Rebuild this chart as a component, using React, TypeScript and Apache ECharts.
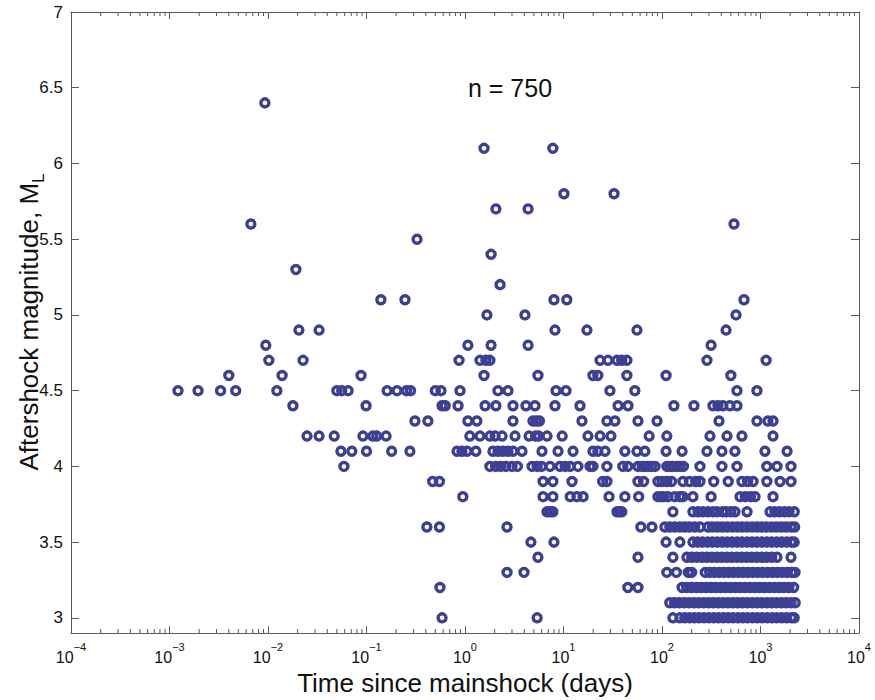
import React, { useEffect, useRef } from "react";
import * as echarts from "echarts";

// Aftershock times (days since mainshock) grouped by local magnitude M_L
const t30 = [0.585, 5.4, 129, 152, 170, 190, 213, 238, 267, 299, 335, 375, 420, 470, 527, 590, 661, 740, 830, 930, 1040, 1170, 1310, 1460, 1640, 1840, 2060, 2200];
const t31 = [120, 134, 150, 168, 188, 211, 236, 265, 297, 332, 372, 417, 467, 523, 586, 656, 735, 823, 922, 1030, 1160, 1300, 1450, 1630, 1820, 2040, 2250];
const t32 = [0.557, 45, 57, 160, 178, 200, 224, 250, 280, 315, 352, 395, 442, 495, 555, 620, 695, 780, 875, 980, 1100, 1230, 1380, 1550, 1730, 1940, 2170];
const t33 = [2.67, 3.97, 112, 140, 185, 200, 275, 305, 340, 380, 425, 475, 530, 595, 665, 745, 835, 935, 1050, 1180, 1320, 1480, 1660, 1860, 2080, 2240];
const t34 = [5.5, 57, 129, 179, 200, 225, 255, 285, 320, 360, 405, 455, 510, 575, 645, 725, 815, 915, 1030, 1150, 1300, 1470, 2040];
const t35 = [4.67, 8.0, 110, 152, 206, 230, 258, 290, 325, 365, 410, 460, 515, 580, 650, 730, 820, 920, 1030, 1160, 1300, 1460, 1640, 1840, 2060, 2200];
const t36 = [0.41, 0.55, 2.67, 61, 79, 107, 120, 135, 152, 170, 190, 215, 243, 293, 325, 365, 410, 460, 520, 580, 650, 730, 820, 920, 1030, 1150, 1300, 1450, 1630, 1830, 2050, 2220];
const t37 = [6.8, 7.3, 7.8, 34.9, 37, 39, 129, 206, 232, 260, 293, 329, 362, 415, 450, 500, 550, 730, 1250, 1400, 1560, 1750, 1950, 2200];
const t38 = [0.95, 6.2, 7.8, 11.7, 13.7, 15.8, 29, 42, 58, 91, 98, 104, 115, 135, 152, 163, 206, 315, 620, 700, 790, 880, 1340];
const t39 = [0.47, 0.55, 6.2, 7.8, 12.2, 25, 27.6, 57, 65, 91, 100, 112, 125, 163, 190, 220, 243, 335, 470, 648, 740, 840, 1160, 1580, 2040];
const t40 = [0.059, 1.79, 2.05, 2.3, 2.6, 3.0, 3.4, 4.8, 5.4, 6.0, 7.3, 9.2, 10.4, 11.7, 14.0, 18.6, 19.9, 27.6, 40, 45, 57, 63, 67, 72, 78, 85, 112, 120, 128, 140, 152, 165, 243, 406, 577, 1160, 1470, 2040];
const t41 = [0.055, 0.071, 0.1, 0.18, 0.276, 0.83, 0.93, 1.05, 1.29, 1.92, 2.16, 2.43, 2.73, 3.07, 3.79, 6.05, 8.8, 12.5, 19.9, 22.3, 26.4, 42, 55.7, 67, 110, 160, 286, 406, 550, 1110, 1860];
const t42 = [0.0249, 0.033, 0.047, 0.092, 0.116, 0.127, 0.158, 1.12, 1.42, 1.79, 2.02, 2.38, 3.22, 4.47, 5.2, 5.6, 6.8, 9.7, 17.7, 23.5, 30.3, 74, 112, 307, 457, 648, 1340];
const t43 = [0.31, 0.42, 1.07, 1.32, 3.07, 4.9, 5.3, 5.7, 15.4, 27.6, 33.3, 57, 89, 379, 920, 1190, 1340];
const t44 = [0.0179, 0.099, 0.585, 0.63, 0.85, 1.6, 2.06, 3.07, 4.16, 5.13, 8.2, 14.7, 35.8, 45.2, 132, 211, 329, 370, 415, 490, 577];
const t45 = [0.00122, 0.00195, 0.0033, 0.0047, 0.0123, 0.05, 0.056, 0.065, 0.162, 0.204, 0.255, 0.28, 0.5, 0.57, 0.89, 2.16, 2.73, 8.4, 10.6, 29.6, 53, 577, 920];
const t46 = [0.004, 0.0139, 0.088, 1.56, 5.5, 19.9, 22.3, 44, 110, 500];
const t47 = [0.0102, 0.0227, 0.87, 1.42, 1.63, 1.79, 23.5, 28.3, 34.9, 39, 44, 286, 1140];
const t48 = [0.0095, 1.07, 1.84, 4.37, 315];
const t49 = [0.0206, 0.033, 8.2, 17.3, 55.7, 447];
const t50 = [1.67, 4.06, 564];
const t51 = [0.14, 0.246, 8.0, 10.8, 680];
const t52 = [2.27];
const t53 = [0.0192];
const t54 = [1.84];
const t55 = [0.326];
const t56 = [0.0067, 538];
const t57 = [2.06, 4.37];
const t58 = [10.1, 32.6];
const t61 = [1.56, 7.8];
const t64 = [0.0093];

const magnitudeRows: [number, number[]][] = [
  [3.0, t30], [3.1, t31], [3.2, t32], [3.3, t33], [3.4, t34], [3.5, t35],
  [3.6, t36], [3.7, t37], [3.8, t38], [3.9, t39], [4.0, t40], [4.1, t41],
  [4.2, t42], [4.3, t43], [4.4, t44], [4.5, t45], [4.6, t46], [4.7, t47],
  [4.8, t48], [4.9, t49], [5.0, t50], [5.1, t51], [5.2, t52], [5.3, t53],
  [5.4, t54], [5.5, t55], [5.6, t56], [5.7, t57], [5.8, t58], [6.1, t61],
  [6.4, t64],
];

const decadeExponents = [-4, -3, -2, -1, 0, 1, 2, 3];
const minorMultipliers = [2, 3, 4, 5, 6, 7, 8, 9];
const annotation = "n = 750";
const xTitle = "Time since mainshock (days)";
const yTitleMain = "Aftershock magnitude, M";
const yTitleSub = "L";

const axisColor = "#5a5a5a";
const textColor = "#111111";
const dotColor = "#3c3f96";
const fontFamily = "'Liberation Sans', Arial, Helvetica, sans-serif";

export default function App() {
  const ref = useRef<HTMLDivElement>(null);

  useEffect(() => {
    if (!ref.current) return;
    const chart = echarts.init(ref.current, undefined, { renderer: "svg" });

    const points: number[][] = [];
    magnitudeRows.forEach(([m, ts]) => ts.forEach((t) => points.push([t, m])));

    const minorTicks: number[][] = [];
    decadeExponents.forEach((e) =>
      minorMultipliers.forEach((k) => minorTicks.push([k * Math.pow(10, e), 5]))
    );

    const supLabel = (v: number) => {
      const e = Math.round(Math.log10(v));
      const s = e < 0 ? "\u2212" + -e : String(e);
      return "{base|10}{sup|" + s + "}";
    };

    const commonX = {
      type: "log",
      logBase: 10,
      min: 1e-4,
      max: 1e4,
      splitNumber: 8,
      splitLine: { show: false },
      axisLine: { show: true, onZero: false, lineStyle: { color: axisColor, width: 1 } },
      axisTick: { show: true, inside: true, length: 7, lineStyle: { color: axisColor, width: 1 } },
    };
    const commonY = {
      type: "value",
      min: 2.9,
      max: 7,
      splitNumber: 8,
      splitLine: { show: false },
      axisLine: { show: true, onZero: false, lineStyle: { color: axisColor, width: 1 } },
      axisTick: { show: true, inside: true, length: 8, lineStyle: { color: axisColor, width: 1 } },
    };

    chart.setOption({
      animation: false,
      backgroundColor: "#ffffff",
      grid: { left: 71, right: 16, top: 12, bottom: 67, containLabel: false, outerBoundsMode: "none" },
      xAxis: [
        {
          ...commonX,
          position: "bottom",
          axisLabel: {
            margin: 8,
            formatter: supLabel,
            color: textColor,
            fontFamily,
            rich: {
              base: { fontSize: 16, lineHeight: 24, verticalAlign: "bottom", color: textColor, fontFamily },
              sup: { fontSize: 11, lineHeight: 12, verticalAlign: "top", color: textColor, fontFamily },
            },
          },
          name: xTitle,
          nameLocation: "middle",
          nameGap: 33,
          nameTextStyle: { fontSize: 26, color: textColor, fontFamily },
        },
        { ...commonX, position: "top", axisLabel: { show: false } },
      ],
      yAxis: [
        {
          ...commonY,
          position: "left",
          axisLabel: {
            margin: 8,
            fontSize: 17,
            color: textColor,
            fontFamily,
            formatter: (v: number) => (Math.abs(v - 2.9) < 1e-6 ? "" : String(+v.toFixed(1))),
          },
        },
        { ...commonY, position: "right", axisLabel: { show: false } },
      ],
      graphic: [
        {
          type: "text",
          x: 510,
          y: 88,
          style: {
            text: annotation,
            fontSize: 25,
            fontFamily,
            fill: textColor,
            textAlign: "center",
            textVerticalAlign: "middle",
          },
        },
        {
          type: "text",
          x: 31,
          y: 322,
          rotation: Math.PI / 2,
          style: {
            text: "{m|" + yTitleMain + "}{sub|" + yTitleSub + "}",
            fill: textColor,
            fontFamily,
            textAlign: "center",
            textVerticalAlign: "middle",
            rich: {
              m: { fontSize: 26, lineHeight: 30, verticalAlign: "top", fill: textColor, fontFamily },
              sub: { fontSize: 17, lineHeight: 31, verticalAlign: "bottom", fill: textColor, fontFamily },
            },
          },
        },
      ],
      series: [
        {
          type: "scatter",
          xAxisIndex: 0,
          yAxisIndex: 0,
          data: points,
          symbol: "circle",
          symbolSize: 8,
          itemStyle: { color: "rgba(0,0,0,0)", borderColor: dotColor, borderWidth: 3.4, opacity: 1 },
          emphasis: { disabled: true },
          silent: true,
          z: 3,
        },
        {
          type: "custom",
          xAxisIndex: 0,
          yAxisIndex: 0,
          data: minorTicks,
          silent: true,
          z: 4,
          renderItem: (params: any, api: any) => {
            const x = api.coord([api.value(0), 5])[0];
            const cs = params.coordSys;
            const yb = cs.y + cs.height;
            return {
              type: "group",
              children: [
                { type: "line", shape: { x1: x, y1: yb, x2: x, y2: yb - 4 }, style: { stroke: axisColor, lineWidth: 1 } },
                { type: "line", shape: { x1: x, y1: cs.y, x2: x, y2: cs.y + 4 }, style: { stroke: axisColor, lineWidth: 1 } },
              ],
            };
          },
        },
      ],
    });

    return () => chart.dispose();
  }, []);

  return (
    <div
      ref={ref}
      style={{ position: "absolute", left: 0, top: 0, width: 875, height: 700, background: "#fff" }}
    />
  );
}
